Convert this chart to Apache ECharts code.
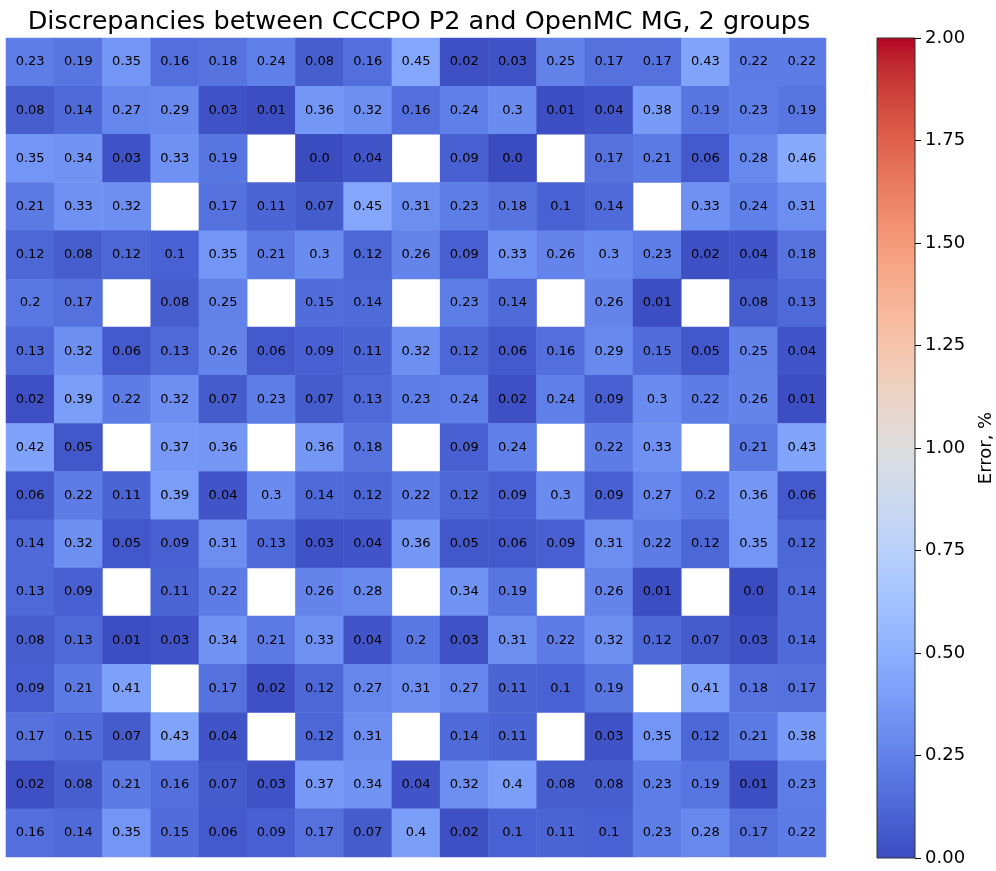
<!DOCTYPE html>
<html>
<head>
<meta charset="utf-8">
<script src="https://cdn.jsdelivr.net/npm/echarts@6/dist/echarts.min.js"></script>
<style>html,body{margin:0;padding:0;background:#fff;}#c{width:996px;height:871px;}</style>
</head>
<body>
<div id="c"></div>
<script>
// 17x17 assembly map of discrepancies (%); null = no value (white cell)
var N = null;
var rows = [
  [0.23,0.19,0.35,0.16,0.18,0.24,0.08,0.16,0.45,0.02,0.03,0.25,0.17,0.17,0.43,0.22,0.22],
  [0.08,0.14,0.27,0.29,0.03,0.01,0.36,0.32,0.16,0.24,0.3,0.01,0.04,0.38,0.19,0.23,0.19],
  [0.35,0.34,0.03,0.33,0.19,N,0.0,0.04,N,0.09,0.0,N,0.17,0.21,0.06,0.28,0.46],
  [0.21,0.33,0.32,N,0.17,0.11,0.07,0.45,0.31,0.23,0.18,0.1,0.14,N,0.33,0.24,0.31],
  [0.12,0.08,0.12,0.1,0.35,0.21,0.3,0.12,0.26,0.09,0.33,0.26,0.3,0.23,0.02,0.04,0.18],
  [0.2,0.17,N,0.08,0.25,N,0.15,0.14,N,0.23,0.14,N,0.26,0.01,N,0.08,0.13],
  [0.13,0.32,0.06,0.13,0.26,0.06,0.09,0.11,0.32,0.12,0.06,0.16,0.29,0.15,0.05,0.25,0.04],
  [0.02,0.39,0.22,0.32,0.07,0.23,0.07,0.13,0.23,0.24,0.02,0.24,0.09,0.3,0.22,0.26,0.01],
  [0.42,0.05,N,0.37,0.36,N,0.36,0.18,N,0.09,0.24,N,0.22,0.33,N,0.21,0.43],
  [0.06,0.22,0.11,0.39,0.04,0.3,0.14,0.12,0.22,0.12,0.09,0.3,0.09,0.27,0.2,0.36,0.06],
  [0.14,0.32,0.05,0.09,0.31,0.13,0.03,0.04,0.36,0.05,0.06,0.09,0.31,0.22,0.12,0.35,0.12],
  [0.13,0.09,N,0.11,0.22,N,0.26,0.28,N,0.34,0.19,N,0.26,0.01,N,0.0,0.14],
  [0.08,0.13,0.01,0.03,0.34,0.21,0.33,0.04,0.2,0.03,0.31,0.22,0.32,0.12,0.07,0.03,0.14],
  [0.09,0.21,0.41,N,0.17,0.02,0.12,0.27,0.31,0.27,0.11,0.1,0.19,N,0.41,0.18,0.17],
  [0.17,0.15,0.07,0.43,0.04,N,0.12,0.31,N,0.14,0.11,N,0.03,0.35,0.12,0.21,0.38],
  [0.02,0.08,0.21,0.16,0.07,0.03,0.37,0.34,0.04,0.32,0.4,0.08,0.08,0.23,0.19,0.01,0.23],
  [0.16,0.14,0.35,0.15,0.06,0.09,0.17,0.07,0.4,0.02,0.1,0.11,0.1,0.23,0.28,0.17,0.22]
];
var xCats = []; var yCats = [];
for (var i = 0; i < 17; i++) { xCats.push(String(i)); yCats.push(String(i)); }
var colorMin = 0, colorMax = 2, colorStep = 0.25;

var data = [];
rows.forEach(function (r, yi) {
  r.forEach(function (v, xi) { if (v !== null) data.push([xi, yi, v]); });
});

// coolwarm, 33 evenly spaced samples
var coolwarm = [
 'rgb(59,76,192)','rgb(68,90,204)','rgb(77,104,215)','rgb(87,117,225)','rgb(98,130,234)',
 'rgb(108,142,241)','rgb(119,154,247)','rgb(130,165,251)','rgb(141,176,254)','rgb(152,185,255)',
 'rgb(163,194,255)','rgb(174,201,253)','rgb(184,208,249)','rgb(194,213,244)','rgb(204,217,238)',
 'rgb(213,219,230)','rgb(221,221,221)','rgb(229,216,209)','rgb(236,211,197)','rgb(241,204,184)',
 'rgb(245,196,172)','rgb(247,187,159)','rgb(247,177,147)','rgb(247,166,134)','rgb(244,154,123)',
 'rgb(241,141,111)','rgb(236,127,99)','rgb(229,112,88)','rgb(222,96,77)','rgb(213,80,66)',
 'rgb(203,62,56)','rgb(192,40,47)','rgb(180,4,38)'
];
var FONT = 'DejaVu Sans';

// colorbar gradient (bottom = min, top = max), same colour list as the visual map
var cbStops = coolwarm.map(function (c, k) { return {offset: k / (coolwarm.length - 1), color: c}; });
var cbGradient = new echarts.graphic.LinearGradient(0, 1, 0, 0, cbStops);

var chart = echarts.init(document.getElementById('c'), null, {renderer: 'canvas'});
chart.setOption({
  animation: false,
  backgroundColor: '#fff',
  title: {
    text: 'Discrepancies between CCCPO P2 and OpenMC MG, 2 groups',
    left: 414, top: 4, textAlign: 'center',
    textStyle: {fontFamily: FONT, fontSize: 25.5, fontWeight: 'normal', color: '#000'}
  },
  grid: [
    {left: 6, top: 38, width: 820, height: 819},
    {left: 877, top: 38, width: 41, height: 820, show: true, borderColor: '#333', borderWidth: 1, backgroundColor: cbGradient}
  ],
  xAxis: [
    {type: 'category', data: xCats, gridIndex: 0, show: false},
    {type: 'value', gridIndex: 1, show: false, min: 0, max: 1}
  ],
  yAxis: [
    {type: 'category', data: yCats, gridIndex: 0, show: false, inverse: true},
    {type: 'value', gridIndex: 1, position: 'right', min: colorMin, max: colorMax, interval: colorStep,
     axisLine: {show: false, onZero: false},
     axisTick: {show: true, inside: false, length: 6, lineStyle: {color: '#000', width: 1}},
     splitLine: {show: false},
     axisLabel: {fontFamily: FONT, fontSize: 18, color: '#000', margin: 10,
       formatter: function (v) { return v.toFixed(2); }},
     name: 'Error, %', nameLocation: 'middle', nameRotate: 90, nameGap: 62,
     nameTextStyle: {fontFamily: FONT, fontSize: 18, color: '#000'}
    }
  ],
  visualMap: {
    type: 'continuous', min: colorMin, max: colorMax, seriesIndex: 0, dimension: 2,
    show: false,
    inRange: {color: coolwarm}
  },
  series: [{
    type: 'heatmap', xAxisIndex: 0, yAxisIndex: 0, data: data,
    label: {show: true, fontFamily: FONT, fontSize: 13, color: '#000',
      formatter: function (p) { var v = p.value[2]; return v === 0 ? '0.0' : String(v); }},
    itemStyle: {borderWidth: 0},
    emphasis: {disabled: true}
  }]
});
</script>
</body>
</html>
